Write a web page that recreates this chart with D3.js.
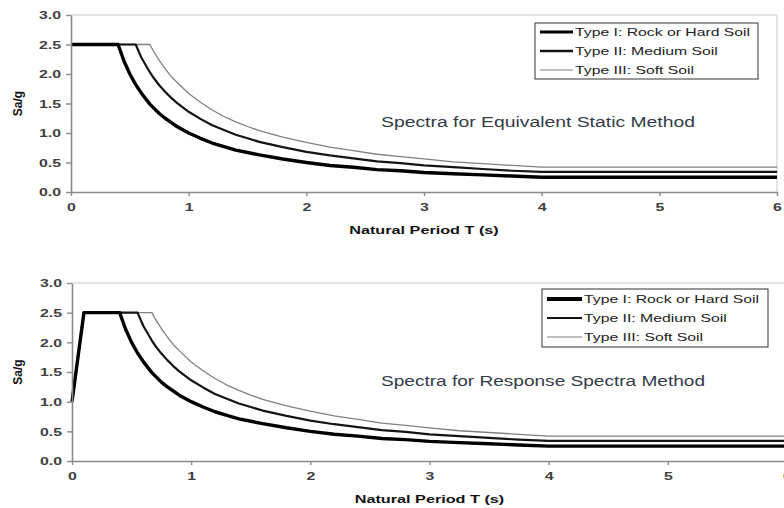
<!DOCTYPE html>
<html>
<head>
<meta charset="utf-8">
<script src="https://cdn.jsdelivr.net/npm/d3@7"></script>
<style>
  body { margin: 0; background: #fff; }
  text { font-family: "Liberation Sans", Arial, sans-serif; }
</style>
</head>
<body>
<div id="chart"></div>
<script>
const periods = [0, 0.1, 0.4, 0.45, 0.5, 0.55, 0.6, 0.67, 0.7, 0.75, 0.8, 0.85, 0.9, 1.0, 1.1, 1.2, 1.3, 1.4, 1.5, 1.6, 1.8, 2.0, 2.2, 2.4, 2.6, 2.8, 3.0, 3.25, 3.5, 3.75, 4.0, 6.0]

// Sa/g, equivalent static method
const staticRock   = [2.5, 2.5, 2.5, 2.22, 2.0, 1.82, 1.67, 1.49, 1.43, 1.33, 1.25, 1.18, 1.11, 1.0, 0.91, 0.83, 0.77, 0.71, 0.67, 0.63, 0.56, 0.5, 0.45, 0.42, 0.38, 0.36, 0.33, 0.31, 0.29, 0.27, 0.25, 0.25]
const staticMedium = [2.5, 2.5, 2.5, 2.5, 2.5, 2.5, 2.27, 2.03, 1.94, 1.81, 1.7, 1.6, 1.51, 1.36, 1.24, 1.13, 1.05, 0.97, 0.91, 0.85, 0.76, 0.68, 0.62, 0.57, 0.52, 0.49, 0.45, 0.42, 0.39, 0.36, 0.34, 0.34]
const staticSoft   = [2.5, 2.5, 2.5, 2.5, 2.5, 2.5, 2.5, 2.5, 2.39, 2.23, 2.09, 1.96, 1.86, 1.67, 1.52, 1.39, 1.28, 1.19, 1.11, 1.04, 0.93, 0.84, 0.76, 0.7, 0.64, 0.6, 0.56, 0.51, 0.48, 0.45, 0.42, 0.42]

// Sa/g, response spectra method
const responseRock   = [1.0, 2.5, 2.5, 2.22, 2.0, 1.82, 1.67, 1.49, 1.43, 1.33, 1.25, 1.18, 1.11, 1.0, 0.91, 0.83, 0.77, 0.71, 0.67, 0.63, 0.56, 0.5, 0.45, 0.42, 0.38, 0.36, 0.33, 0.31, 0.29, 0.27, 0.25, 0.25]
const responseMedium = [1.0, 2.5, 2.5, 2.5, 2.5, 2.5, 2.27, 2.03, 1.94, 1.81, 1.7, 1.6, 1.51, 1.36, 1.24, 1.13, 1.05, 0.97, 0.91, 0.85, 0.76, 0.68, 0.62, 0.57, 0.52, 0.49, 0.45, 0.42, 0.39, 0.36, 0.34, 0.34]
const responseSoft   = [1.0, 2.5, 2.5, 2.5, 2.5, 2.5, 2.5, 2.5, 2.39, 2.23, 2.09, 1.96, 1.86, 1.67, 1.52, 1.39, 1.28, 1.19, 1.11, 1.04, 0.93, 0.84, 0.76, 0.7, 0.64, 0.6, 0.56, 0.51, 0.48, 0.45, 0.42, 0.42]

const seriesNames = ['Type I: Rock or Hard Soil', 'Type II: Medium Soil', 'Type III: Soft Soil']
const xTicks = [0, 1, 2, 3, 4, 5, 6]
const yTicks = [0, 0.5, 1.0, 1.5, 2.0, 2.5, 3.0]
const titles = ['Spectra for Equivalent Static Method', 'Spectra for Response Spectra Method']

const svgWidth = 784
const svgHeight = 508

const svg = d3.select('#chart')
    .append('svg')
    .attr('width', svgWidth)
    .attr('height', svgHeight)

// line styles, Type I thick black down to Type III thin grey
const styles = [
    { color: '#000', width: 3.4 },
    { color: '#141414', width: 2.2 },
    { color: '#808080', width: 1.3 }
]

// the picture looks stretched sideways, so text gets widened the same way
function widen(sel, k) {
    sel.each(function () {
        this.setAttribute('textLength', this.getComputedTextLength() * k)
        this.setAttribute('lengthAdjust', 'spacingAndGlyphs')
    })
}

const panels = [
    {
        box: { left: 71, right: 777, top: 15, bottom: 192 },
        series: [staticRock, staticMedium, staticSoft],
        title: titles[0], titleX: 381, titleY: 127, titleW: 314,
        legend: { x: 535, y: 23, w: 223, h: 56, rowY: 9, gap: 19, lineX: 5, lineW: 33, legendWidths: [3, 2.4, 1.1] }
    },
    {
        box: { left: 72, right: 787, top: 283, bottom: 461 },
        series: [responseRock, responseMedium, responseSoft],
        title: titles[1], titleX: 381, titleY: 386, titleW: 324,
        legend: { x: 542, y: 289, w: 226, h: 58, rowY: 10, gap: 19, lineX: 5, lineW: 35, legendWidths: [4, 2, 1.1] }
    }
]

panels.forEach(p => {
    const b = p.box
    const g = svg.append('g')

    const xScale = d3.scaleLinear().domain([0, 6]).range([b.left, b.right])
    const yScale = d3.scaleLinear().domain([0, 3]).range([b.bottom, b.top])

    // light frame on top and right
    g.append('path')
        .attr('d', `M${b.left},${b.top}H${b.right}V${b.bottom}`)
        .attr('fill', 'none')
        .attr('stroke', '#c8c8c8')
        .attr('stroke-width', 1)

    // curves, thinnest first so Type I sits on top
    const line = d3.line()
        .x((d, i) => xScale(periods[i]))
        .y(d => yScale(d))

    p.series.slice().reverse().forEach((s, j) => {
        const st = styles[2 - j]
        g.append('path')
            .datum(s)
            .attr('d', line)
            .attr('fill', 'none')
            .attr('stroke', st.color)
            .attr('stroke-width', st.width)
            .attr('stroke-linejoin', 'round')
    })

    // axes
    const xAxis = g.append('g')
        .attr('transform', `translate(0,${b.bottom})`)
        .call(d3.axisBottom(xScale).tickValues(xTicks).tickFormat(d3.format('d')).tickSize(4).tickPadding(7).tickSizeOuter(0))
    const yAxis = g.append('g')
        .attr('transform', `translate(${b.left},0)`)
        .call(d3.axisLeft(yScale).tickValues(yTicks).tickFormat(d3.format('.1f')).tickSize(5).tickPadding(5).tickSizeOuter(0))

    ;[xAxis, yAxis].forEach(a => {
        a.select('.domain').attr('stroke', '#8a8a8a').attr('stroke-width', 1.6)
        a.selectAll('.tick line').attr('stroke', '#8a8a8a').attr('stroke-width', 1.4)
        a.selectAll('.tick text')
            .attr('fill', '#404040')
            .attr('font-size', 11.5)
            .attr('font-weight', 'bold')
            .attr('font-family', '"Liberation Sans", Arial, sans-serif')
        widen(a.selectAll('.tick text'), 1.38)
    })

    // axis titles
    const xt = g.append('text')
        .attr('x', (b.left + b.right) / 2)
        .attr('y', b.bottom + 42)
        .attr('text-anchor', 'middle')
        .attr('font-size', 11.5)
        .attr('font-weight', 'bold')
        .attr('fill', '#111')
        .text('Natural Period T (s)')
    widen(xt, 1.41)

    g.append('text')
        .attr('transform', `translate(22,${(b.top + b.bottom) / 2}) rotate(-90)`)
        .attr('text-anchor', 'middle')
        .attr('font-size', 12)
        .attr('font-weight', 'bold')
        .attr('fill', '#111')
        .text('Sa/g')

    // chart caption inside the plot
    g.append('text')
        .attr('x', p.titleX)
        .attr('y', p.titleY)
        .attr('font-family', '"DejaVu Sans", Verdana, sans-serif')
        .attr('font-size', 14)
        .attr('fill', '#343b48')
        .attr('textLength', p.titleW)
        .attr('lengthAdjust', 'spacingAndGlyphs')
        .text(p.title)

    // legend
    const L = p.legend
    const lg = g.append('g').attr('transform', `translate(${L.x},${L.y})`)
    lg.append('rect')
        .attr('width', L.w)
        .attr('height', L.h)
        .attr('fill', '#fff')
        .attr('stroke', '#333')
        .attr('stroke-width', 1)

    seriesNames.forEach((name, i) => {
        const y = L.rowY + i * L.gap
        lg.append('line')
            .attr('x1', L.lineX).attr('x2', L.lineX + L.lineW)
            .attr('y1', y).attr('y2', y)
            .attr('stroke', styles[i].color)
            .attr('stroke-width', L.legendWidths[i])
        const t = lg.append('text')
            .attr('x', L.lineX + L.lineW + 2)
            .attr('y', y)
            .attr('dy', '0.35em')
            .attr('font-size', 11.5)
            .attr('fill', '#222')
            .text(name)
        widen(t, 1.37)
    })
})
</script>
</body>
</html>
